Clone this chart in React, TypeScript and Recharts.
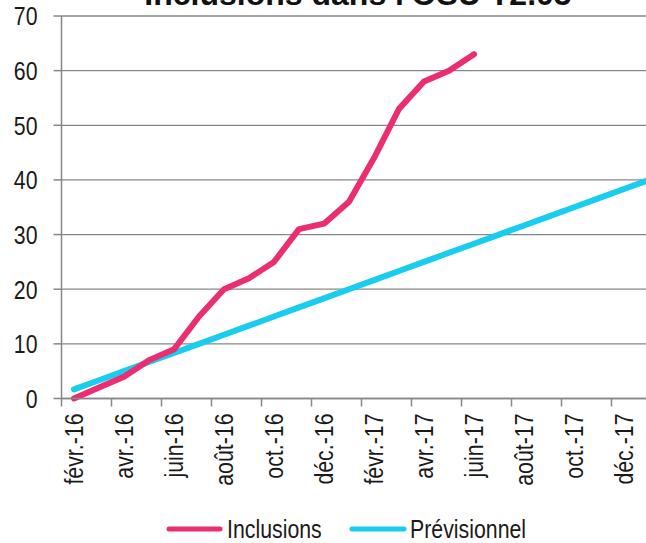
import { LineChart, Line, XAxis, YAxis, CartesianGrid } from "recharts";

const months: string[] = [
  "févr.-16", "mars-16", "avr.-16", "mai-16", "juin-16", "juil.-16",
  "août-16", "sept.-16", "oct.-16", "nov.-16", "déc.-16", "janv.-17",
  "févr.-17", "mars-17", "avr.-17", "mai-17", "juin-17", "juil.-17",
  "août-17", "sept.-17", "oct.-17", "nov.-17", "déc.-17", "janv.-18",
];

const inclusions: number[] = [0, 2, 4, 7, 9, 15, 20, 22, 25, 31, 32, 36, 44, 53, 58, 60, 63];

const previsionnel: number[] = [
  1.67, 3.33, 5, 6.67, 8.33, 10, 11.67, 13.33, 15, 16.67, 18.33, 20,
  21.67, 23.33, 25, 26.67, 28.33, 30, 31.67, 33.33, 35, 36.67, 38.33, 40,
];

const yTicks: number[] = [0, 10, 20, 30, 40, 50, 60, 70];

const data = months.map((m, i) => ({
  month: m,
  inclusions: i < inclusions.length ? inclusions[i] : null,
  previsionnel: previsionnel[i],
}));

// no Arial Narrow here, so squeeze Liberation Sans horizontally
const FONT = "'Liberation Sans', Arial, sans-serif";
const NARROW = 0.82;
const GRID = "#878787";
const PINK = "#ea2e71";
const BLUE = "#19cdf1";
const INK = "#1a1a1a";

// ticks sit on category boundaries, labels every second month
const MonthTick = (props: any) => {
  const { x, y, payload, index } = props;
  if (index % 2 !== 0) return <g />;
  const bx = x - 12.5;
  return (
    <g>
      <line x1={bx} y1={y} x2={bx} y2={y + 8} stroke={GRID} strokeWidth={1.5} />
      <text
        transform={`translate(${x},${y + 15}) rotate(-90) scale(${NARROW},1)`}
        textAnchor="end"
        dy="0.36em"
        fontSize={26}
        fontFamily={FONT}
        fill={INK}
      >
        {payload.value}
      </text>
    </g>
  );
};

const ValueTick = (props: any) => {
  const { x, y, payload } = props;
  return (
    <text
      transform={`translate(${x},${y}) scale(${NARROW},1)`}
      textAnchor="end"
      dy="0.36em"
      fontSize={26}
      fontFamily={FONT}
      fill={INK}
    >
      {payload.value}
    </text>
  );
};

const App = () => {
  return (
    <div
      style={{
        position: "absolute",
        left: 0,
        top: 0,
        width: 646,
        height: 543,
        overflow: "hidden",
        background: "#fff",
      }}
    >
      <svg width={646} height={20} style={{ position: "absolute", left: 0, top: 0 }}>
        <text
          x={358}
          y={5}
          textAnchor="middle"
          fontSize={32}
          fontWeight="bold"
          fontFamily={FONT}
          fill="#111"
        >
          Inclusions dans l'OSU T2.05
        </text>
      </svg>
      <LineChart
        width={662}
        height={500}
        data={data}
        margin={{ top: 16, right: 0.5, left: 0, bottom: 0 }}
      >
        <CartesianGrid vertical={false} stroke={GRID} strokeWidth={1.3} />
        <XAxis
          dataKey="month"
          interval={0}
          height={101.5}
          padding={{ left: 12.5, right: 12.5 }}
          tickSize={0}
          tickMargin={0}
          tickLine={false}
          axisLine={{ stroke: GRID, strokeWidth: 1.5 }}
          tick={<MonthTick />}
        />
        <YAxis
          width={61.5}
          domain={[0, 70]}
          ticks={yTicks}
          interval={0}
          tickSize={8}
          tickMargin={16}
          axisLine={{ stroke: GRID, strokeWidth: 1.5 }}
          tickLine={{ stroke: GRID, strokeWidth: 1.5 }}
          tick={<ValueTick />}
        />
        <Line
          dataKey="previsionnel"
          stroke={BLUE}
          strokeWidth={6}
          strokeLinecap="round"
          dot={false}
          isAnimationActive={false}
        />
        <Line
          dataKey="inclusions"
          stroke={PINK}
          strokeWidth={6}
          strokeLinecap="round"
          strokeLinejoin="round"
          dot={false}
          isAnimationActive={false}
        />
      </LineChart>
      <svg width={646} height={43} style={{ position: "absolute", left: 0, top: 500 }}>
        <line x1={169} y1={29} x2={220} y2={29} stroke={PINK} strokeWidth={5} strokeLinecap="round" />
        <text
          transform={`translate(227,38) scale(${NARROW},1)`}
          fontSize={26}
          fontFamily={FONT}
          fill={INK}
        >
          Inclusions
        </text>
        <line x1={352} y1={29} x2={404} y2={29} stroke={BLUE} strokeWidth={5} strokeLinecap="round" />
        <text
          transform={`translate(410,38) scale(${NARROW},1)`}
          fontSize={26}
          fontFamily={FONT}
          fill={INK}
        >
          Prévisionnel
        </text>
      </svg>
    </div>
  );
};

export default App;
